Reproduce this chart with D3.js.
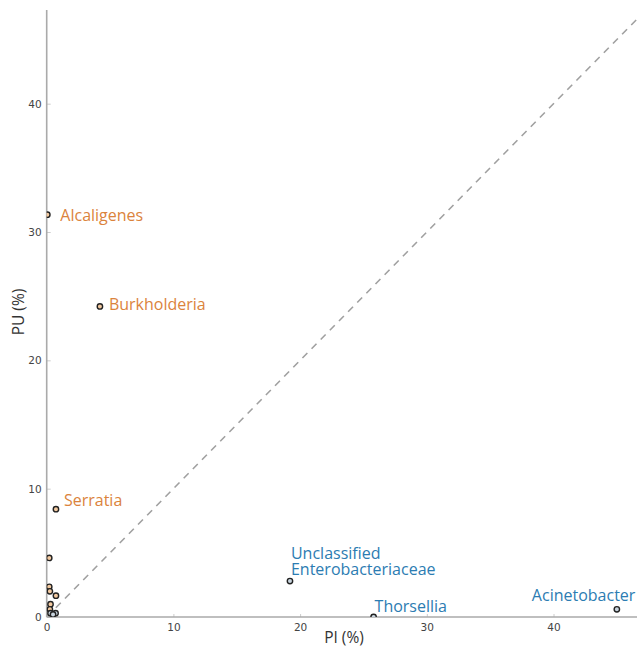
<!DOCTYPE html>
<html><head><meta charset="utf-8">
<script src="https://cdn.jsdelivr.net/npm/d3@7"></script>
<style>body{margin:0;background:#fff;}svg{display:block;}</style>
</head><body>
<script>
// Data
const genera = ["Alcaligenes","Burkholderia","Serratia","Unclassified Enterobacteriaceae","Thorsellia","Acinetobacter"];
const labeledPI = [0.05, 4.2, 0.73, 19.2, 25.8, 45.0];
const labeledPU = [31.35, 24.2, 8.4, 2.8, 0.0, 0.6];
const labeledGroup = ["PU","PU","PU","PI","PI","PI"];
const otherPI = [0.2, 0.2, 0.25, 0.73, 0.3, 0.25, 0.3, 0.7, 0.5];
const otherPU = [4.6, 2.35, 2.0, 1.66, 1.0, 0.6, 0.3, 0.3, 0.2];
const xTicks = [0, 10, 20, 30, 40];
const yTicks = [0, 10, 20, 30, 40];

const W = 637, H = 650;
const svg = d3.select("body").append("svg").attr("width", W).attr("height", H);
const x0 = 46.7, y0 = 617;
const x = d3.scaleLinear().domain([0, 50]).range([x0, x0 + 50 * 12.67]);
const y = d3.scaleLinear().domain([0, 47.3]).range([y0, 10]);
const orange = "#db833c", blue = "#2c7cb2";

svg.append("clipPath").attr("id","plot").append("rect")
  .attr("x", x0).attr("y", 0).attr("width", W - x0).attr("height", y0);

// diagonal
svg.append("line").attr("clip-path","url(#plot)")
  .attr("x1", x(0)).attr("y1", y(0)).attr("x2", x(50)).attr("y2", y(50))
  .attr("stroke", "#a0a0a0").attr("stroke-width", 1.6).attr("stroke-dasharray", "7,6");

// axes
const xAxis = d3.axisTop(x).tickValues(xTicks).tickSize(3).tickFormat(d3.format("d"));
const gx = svg.append("g").attr("transform", `translate(0,${y0})`).call(xAxis);
gx.select(".domain").remove();
gx.selectAll(".tick line").attr("stroke", "#ccc");
gx.selectAll(".tick text").attr("y", 14).attr("dy", 0).attr("fill", "#444")
  .style("font", "10.5px 'DejaVu Sans', sans-serif");
const yAxis = d3.axisRight(y).tickValues(yTicks).tickSize(4).tickFormat(d3.format("d"));
const gy = svg.append("g").attr("transform", `translate(${x0},0)`).call(yAxis);
gy.select(".domain").remove();
gy.selectAll(".tick line").attr("stroke", "#ccc");
gy.selectAll(".tick text").attr("x", -5).attr("text-anchor", "end").attr("fill", "#444")
  .style("font", "10.5px 'DejaVu Sans', sans-serif");

svg.append("line").attr("x1", x0).attr("x2", W).attr("y1", y0).attr("y2", y0)
  .attr("stroke", "#aaa").attr("stroke-width", 1.6);
svg.append("line").attr("x1", x0).attr("x2", x0).attr("y1", 10).attr("y2", y0)
  .attr("stroke", "#aaa").attr("stroke-width", 1.6);

// axis titles
svg.append("text").attr("x", 344).attr("y", 643).attr("text-anchor", "middle")
  .attr("fill", "#333").style("font", "15.5px 'Open Sans', sans-serif").text("PI (%)");
svg.append("text").attr("transform", "translate(24,312) rotate(-90)").attr("text-anchor", "middle")
  .attr("fill", "#333").style("font", "15.5px 'Open Sans', sans-serif").text("PU (%)");

// points
const pts = svg.append("g").attr("clip-path", "url(#plot)");
const others = otherPI.map((v, i) => ({pi: v, pu: otherPU[i]}));
pts.selectAll("circle.o").data(others).join("circle").attr("class","o")
  .attr("cx", d => x(d.pi)).attr("cy", d => y(d.pu)).attr("r", 2.7)
  .attr("fill", d => d.pu > d.pi ? "#f2c9a0" : "#c8d4de")
  .attr("stroke", "#222").attr("stroke-width", 1.4);
const lab = genera.map((g, i) => ({name: g, pi: labeledPI[i], pu: labeledPU[i], grp: labeledGroup[i]}));
pts.selectAll("circle.l").data(lab).join("circle").attr("class","l")
  .attr("cx", d => x(d.pi)).attr("cy", d => y(d.pu)).attr("r", 2.7)
  .attr("fill", d => d.grp === "PU" ? "#f2c9a0" : "#c8d4de")
  .attr("stroke", "#222").attr("stroke-width", 1.4);

// label offsets (layout only)
const offs = {
  "Alcaligenes": [13, 6],
  "Burkholderia": [9, 4],
  "Serratia": [8, -3],
  "Unclassified Enterobacteriaceae": [1, -22],
  "Thorsellia": [1, -5],
  "Acinetobacter": [-85, -8]
};
lab.forEach(d => {
  const [dx, dy] = offs[d.name];
  const t = svg.append("text").attr("x", x(d.pi) + dx).attr("y", y(d.pu) + dy)
    .attr("fill", d.grp === "PU" ? orange : blue)
    .style("font", "16px 'Open Sans', sans-serif");
  if (d.name === "Unclassified Enterobacteriaceae") {
    t.append("tspan").attr("x", x(d.pi) + dx).text("Unclassified");
    t.append("tspan").attr("x", x(d.pi) + dx).attr("dy", 16).text("Enterobacteriaceae");
  } else t.text(d.name);
});
</script>
</body></html>
